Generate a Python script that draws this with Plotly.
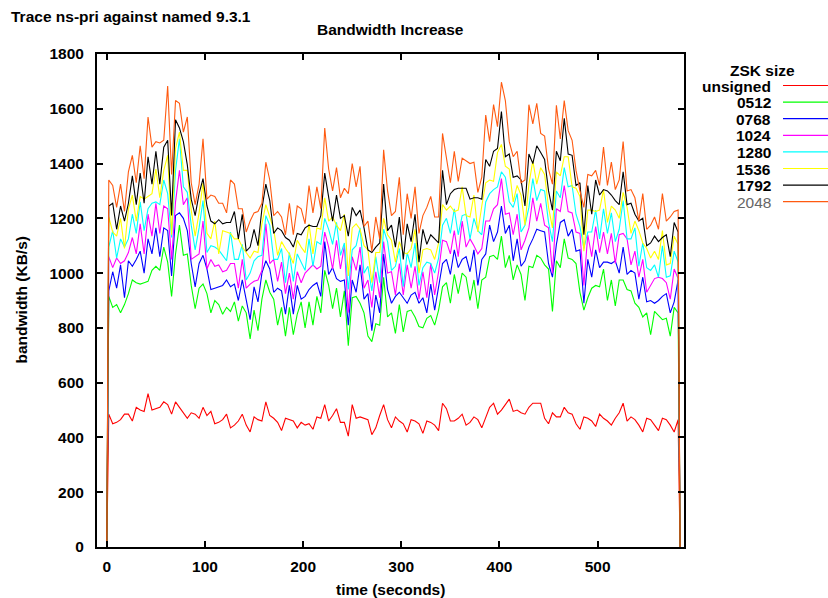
import plotly.graph_objects as go

# ---- data (KB/s), sampled every 4 s from t=2 to t=582; traces start and end at 0 ----
times = [0] + list(range(2, 583, 4)) + [584]

unsigned = [485, 450, 455, 465, 485, 485, 460, 510, 500, 495,
            560, 500, 505, 510, 530, 520, 485, 530, 510, 490,
            470, 490, 485, 470, 510, 480, 495, 450, 455, 465,
            485, 435, 445, 460, 485, 445, 420, 475, 465, 460,
            530, 480, 470, 455, 425, 470, 465, 460, 435, 455,
            445, 450, 430, 475, 470, 520, 460, 480, 505, 455,
            455, 405, 520, 470, 475, 470, 465, 410, 435, 480,
            520, 465, 435, 475, 460, 450, 420, 465, 460, 450,
            415, 460, 455, 445, 425, 525, 505, 460, 460, 470,
            485, 445, 455, 475, 465, 435, 470, 510, 525, 485,
            500, 520, 540, 495, 500, 490, 485, 510, 525, 525,
            525, 470, 450, 490, 475, 475, 510, 490, 485, 450,
            430, 475, 470, 460, 440, 485, 470, 460, 445, 470,
            490, 525, 460, 475, 465, 445, 420, 470, 465, 445,
            425, 470, 465, 445, 420, 465]

zsk0512 = [915, 875, 885, 855, 885, 925, 975, 965, 960, 965,
           970, 1010, 1025, 1010, 1095, 1040, 915, 1070, 1175, 1065,
           1070, 955, 870, 945, 960, 925, 855, 900, 885, 850,
           875, 860, 895, 825, 880, 855, 760, 865, 790, 905,
           975, 930, 905, 810, 875, 770, 875, 775, 850, 895,
           800, 895, 810, 915, 855, 1010, 955, 870, 945, 840,
           935, 735, 910, 915, 890, 855, 770, 750, 815, 810,
           985, 840, 855, 780, 885, 785, 860, 865, 840, 805,
           800, 835, 845, 810, 865, 950, 965, 890, 995, 925,
           1000, 985, 900, 975, 870, 975, 985, 1060, 1065, 1050,
           1135, 1020, 1065, 975, 1030, 995, 900, 1025, 1020, 1065,
           1055, 1030, 1015, 860, 1045, 1020, 1125, 1055, 1050, 1035,
           930, 865, 910, 945, 955, 950, 1015, 900, 975, 880,
           975, 975, 940, 935, 890, 875, 840, 855, 775, 860,
           845, 830, 835, 770, 875, 855]

zsk0768 = [935, 1005, 945, 1030, 910, 1045, 1025, 1050, 1080, 1000,
           1125, 1070, 1165, 1060, 1165, 1155, 990, 1210, 1220, 1200,
           1155, 1035, 950, 1035, 1065, 1015, 940, 945, 950, 955,
           975, 950, 960, 900, 975, 895, 830, 950, 895, 1000,
           1045, 1015, 930, 945, 935, 850, 955, 850, 955, 905,
           915, 940, 955, 965, 915, 1115, 995, 1020, 980, 970,
           975, 810, 975, 930, 1030, 905, 925, 790, 920, 855,
           1070, 940, 890, 915, 930, 910, 890, 920, 930, 890,
           910, 855, 960, 865, 945, 1035, 1050, 995, 1085, 1020,
           1050, 1060, 1005, 1085, 955, 1050, 1070, 1175, 1115, 1150,
           1245, 1145, 1175, 1045, 1125, 1025, 1045, 1095, 1125, 1160,
           1155, 1150, 1035, 985, 1105, 1185, 1195, 1135, 1160, 1080,
           1085, 890, 1050, 985, 1085, 1020, 1040, 1040, 1035, 1045,
           1000, 1095, 995, 1010, 1000, 905, 985, 895, 900, 890,
           900, 915, 925, 855, 895, 975]

zsk1024 = [1060, 1020, 1055, 1035, 1045, 1075, 1130, 1070, 1180, 1070,
           1215, 1135, 1255, 1145, 1245, 1235, 1050, 1260, 1375, 1250,
           1275, 1050, 1060, 1070, 1190, 1015, 1050, 1025, 1030, 1005,
           1010, 1035, 1035, 945, 1050, 945, 960, 970, 975, 1010,
           1180, 1035, 1050, 970, 1040, 925, 1000, 905, 1005, 965,
           1000, 1015, 1030, 1015, 1025, 1150, 1095, 1015, 1120, 1015,
           1100, 855, 1060, 1010, 1095, 945, 975, 875, 1005, 910,
           1115, 1000, 1005, 920, 1035, 920, 1030, 945, 1025, 905,
           1005, 910, 1035, 920, 1005, 1120, 1115, 1070, 1155, 1060,
           1190, 1095, 1125, 1100, 1070, 1090, 1190, 1190, 1235, 1250,
           1345, 1215, 1220, 1140, 1215, 1085, 1120, 1165, 1275, 1190,
           1255, 1175, 1165, 1000, 1235, 1225, 1320, 1225, 1220, 1150,
           1145, 955, 1140, 1060, 1170, 1075, 1150, 1070, 1145, 1035,
           1140, 1145, 1125, 1030, 1080, 985, 1050, 930, 955, 980,
           985, 980, 965, 905, 1015, 980]

zsk1280 = [1095, 1155, 1055, 1125, 1095, 1125, 1215, 1145, 1260, 1155,
           1235, 1255, 1260, 1250, 1340, 1290, 1130, 1375, 1490, 1315,
           1295, 1175, 1085, 1165, 1265, 1075, 1100, 1095, 1085, 1065,
           1045, 1150, 1050, 1050, 1105, 975, 1000, 1045, 1060, 1065,
           1210, 1175, 1050, 1050, 1090, 965, 1075, 970, 1070, 1040,
           1010, 1125, 1025, 1115, 1105, 1200, 1160, 1105, 1185, 1065,
           1110, 940, 1085, 1100, 1165, 1000, 1025, 935, 1060, 965,
           1160, 1115, 1010, 1025, 1090, 950, 1075, 1020, 1110, 955,
           1020, 1040, 1035, 1000, 1055, 1175, 1200, 1145, 1235, 1140,
           1210, 1215, 1125, 1200, 1155, 1140, 1260, 1290, 1305, 1315,
           1370, 1350, 1260, 1240, 1290, 1150, 1175, 1240, 1345, 1265,
           1305, 1300, 1185, 1115, 1300, 1275, 1385, 1315, 1320, 1215,
           1170, 1090, 1150, 1150, 1230, 1125, 1235, 1145, 1220, 1115,
           1160, 1265, 1125, 1125, 1165, 1025, 1110, 1020, 1010, 1030,
           985, 1100, 985, 990, 1080, 1040]

zsk1536 = [1205, 1150, 1135, 1200, 1090, 1235, 1285, 1190, 1280, 1270,
           1280, 1290, 1380, 1275, 1375, 1430, 1140, 1455, 1515, 1375,
           1375, 1230, 1135, 1220, 1330, 1145, 1125, 1190, 1070, 1155,
           1150, 1145, 1125, 1125, 1095, 1075, 1055, 1080, 1075, 1180,
           1250, 1205, 1160, 1065, 1115, 1090, 1070, 1035, 1120, 1095,
           1075, 1180, 1070, 1165, 1160, 1275, 1190, 1205, 1175, 1155,
           1215, 990, 1165, 1180, 1160, 1100, 1085, 965, 1075, 1075,
           1200, 1140, 1120, 1040, 1115, 1075, 1070, 1090, 1160, 1000,
           1085, 1090, 1085, 1050, 1110, 1250, 1230, 1245, 1225, 1230,
           1315, 1210, 1205, 1285, 1150, 1245, 1330, 1340, 1335, 1440,
           1470, 1390, 1380, 1260, 1320, 1285, 1175, 1325, 1410, 1325,
           1385, 1360, 1240, 1165, 1370, 1355, 1425, 1425, 1315, 1310,
           1280, 1080, 1230, 1230, 1225, 1230, 1305, 1185, 1245, 1230,
           1200, 1295, 1240, 1145, 1190, 1155, 1110, 1090, 1055, 1080,
           1050, 1155, 1030, 1035, 1135, 1105]

zsk1792 = [1245, 1255, 1160, 1245, 1190, 1255, 1355, 1250, 1365, 1255,
           1425, 1325, 1445, 1325, 1460, 1485, 1210, 1560, 1530, 1480,
           1395, 1270, 1210, 1290, 1345, 1245, 1190, 1180, 1195, 1180,
           1185, 1185, 1225, 1125, 1215, 1080, 1095, 1160, 1100, 1235,
           1325, 1265, 1145, 1165, 1155, 1130, 1120, 1095, 1145, 1140,
           1165, 1175, 1170, 1170, 1210, 1365, 1280, 1190, 1285, 1200,
           1210, 1135, 1240, 1210, 1230, 1165, 1085, 1075, 1095, 1110,
           1325, 1155, 1175, 1095, 1205, 1050, 1180, 1115, 1215, 1040,
           1160, 1105, 1140, 1125, 1110, 1375, 1250, 1290, 1305, 1310,
           1310, 1310, 1270, 1275, 1275, 1270, 1415, 1390, 1445, 1455,
           1590, 1425, 1435, 1350, 1355, 1340, 1245, 1435, 1400, 1465,
           1440, 1415, 1300, 1230, 1445, 1410, 1565, 1435, 1430, 1320,
           1330, 1140, 1320, 1215, 1340, 1285, 1305, 1300, 1285, 1265,
           1250, 1370, 1250, 1255, 1215, 1190, 1200, 1100, 1110, 1135,
           1115, 1130, 1140, 1060, 1185, 1150]

zsk2048 = [1340, 1320, 1240, 1325, 1225, 1370, 1430, 1330, 1465, 1345,
           1570, 1460, 1480, 1475, 1485, 1683, 1360, 1630, 1620, 1515,
           1570, 1330, 1250, 1325, 1490, 1270, 1285, 1280, 1255, 1255,
           1220, 1340, 1325, 1235, 1235, 1150, 1190, 1220, 1225, 1255,
           1405, 1340, 1210, 1225, 1205, 1140, 1255, 1140, 1245, 1235,
           1180, 1320, 1220, 1315, 1235, 1530, 1380, 1300, 1385, 1275,
           1310, 1290, 1400, 1315, 1390, 1170, 1190, 1080, 1205, 1125,
           1450, 1300, 1210, 1225, 1350, 1140, 1290, 1200, 1315, 1145,
           1210, 1240, 1280, 1205, 1205, 1510, 1420, 1330, 1445, 1335,
           1420, 1410, 1400, 1405, 1295, 1350, 1577, 1480, 1615, 1535,
           1697, 1630, 1480, 1425, 1445, 1330, 1340, 1615, 1545, 1620,
           1510, 1500, 1380, 1325, 1613, 1490, 1630, 1520, 1485, 1375,
           1300, 1240, 1360, 1355, 1375, 1320, 1460, 1320, 1405, 1305,
           1340, 1480, 1300, 1305, 1275, 1190, 1290, 1160, 1175, 1205,
           1160, 1290, 1190, 1205, 1225, 1230]

series_names = ["unsigned", "0512", "0768", "1024", "1280", "1536", "1792", "2048"]
series_values = [unsigned, zsk0512, zsk0768, zsk1024, zsk1280, zsk1536, zsk1792, zsk2048]
series_colors = ["#ff0000", "#00ff00", "#0000ff", "#ff00ff", "#00ffff", "#ffff00", "#000000", "#ff5a10"]

x_ticks = [0, 100, 200, 300, 400, 500]
y_ticks = [0, 200, 400, 600, 800, 1000, 1200, 1400, 1600, 1800]

# ---- layout geometry (pixels) ----
W, H = 828, 598
L, R, T, B = 97, 684, 54, 547

def px_x(px):
    return (px - L) / (R - L)

def px_y(py):
    return (B - py) / (B - T)

FONT = "Liberation Sans, Arial, sans-serif"
FS = 15.5

fig = go.Figure()
for name, vals, col in zip(series_names, series_values, series_colors):
    fig.add_trace(go.Scatter(
        x=times, y=[0] + vals + [0], mode="lines", name=name,
        line=dict(color=col, width=1.1), showlegend=False,
    ))

axis_common = dict(
    showline=True, linecolor="black", linewidth=2, mirror="ticks",
    ticks="inside", ticklen=6, tickwidth=2, tickcolor="black",
    showgrid=False, zeroline=False,
    tickfont=dict(family=FONT, size=FS, color="black", weight="bold"),
)

fig.update_layout(
    width=W, height=H, autosize=False,
    margin=dict(l=L, r=W - R, t=T, b=H - B, pad=0),
    paper_bgcolor="white", plot_bgcolor="white",
    xaxis=dict(range=[-10, 588], tickvals=x_ticks, ticklabelstandoff=4, **axis_common),
    yaxis=dict(range=[0, 1800], tickvals=y_ticks, ticklabelstandoff=8, **axis_common),
)

annotations = []
shapes = []

def text(x, y, s, anchor="center", angle=0, color="black", weight="bold"):
    annotations.append(dict(
        x=px_x(x), y=px_y(y), xref="paper", yref="paper", text=s, showarrow=False,
        xanchor=anchor, yanchor="middle", textangle=angle,
        font=dict(family=FONT, size=FS, color=color, weight=weight),
    ))

text(9, 16, "Trace ns-pri against named 9.3.1", anchor="left")
text(390.5, 30, "Bandwidth Increase")
text(390.5, 589, "time (seconds)")
text(21, 300.5, "bandwidth (KB/s)", angle=-90)

# legend drawn by hand (gnuplot style: label on the left, sample on the right)
text(762, 70, "ZSK size")
row_y0, row_dy = 85.5, 16.6
for i, (name, col) in enumerate(zip(series_names, series_colors)):
    yy = row_y0 + i * row_dy
    is_last = name == "2048"
    text(773, yy + 0.5, name, anchor="right",
         color="#666666" if is_last else "black",
         weight="normal" if is_last else "bold")
    shapes.append(dict(type="line", xref="paper", yref="paper",
                       x0=px_x(783), x1=px_x(832), y0=px_y(yy), y1=px_y(yy),
                       line=dict(color=col, width=1.2)))

fig.update_layout(annotations=annotations, shapes=shapes)
fig.write_html("out.html")
